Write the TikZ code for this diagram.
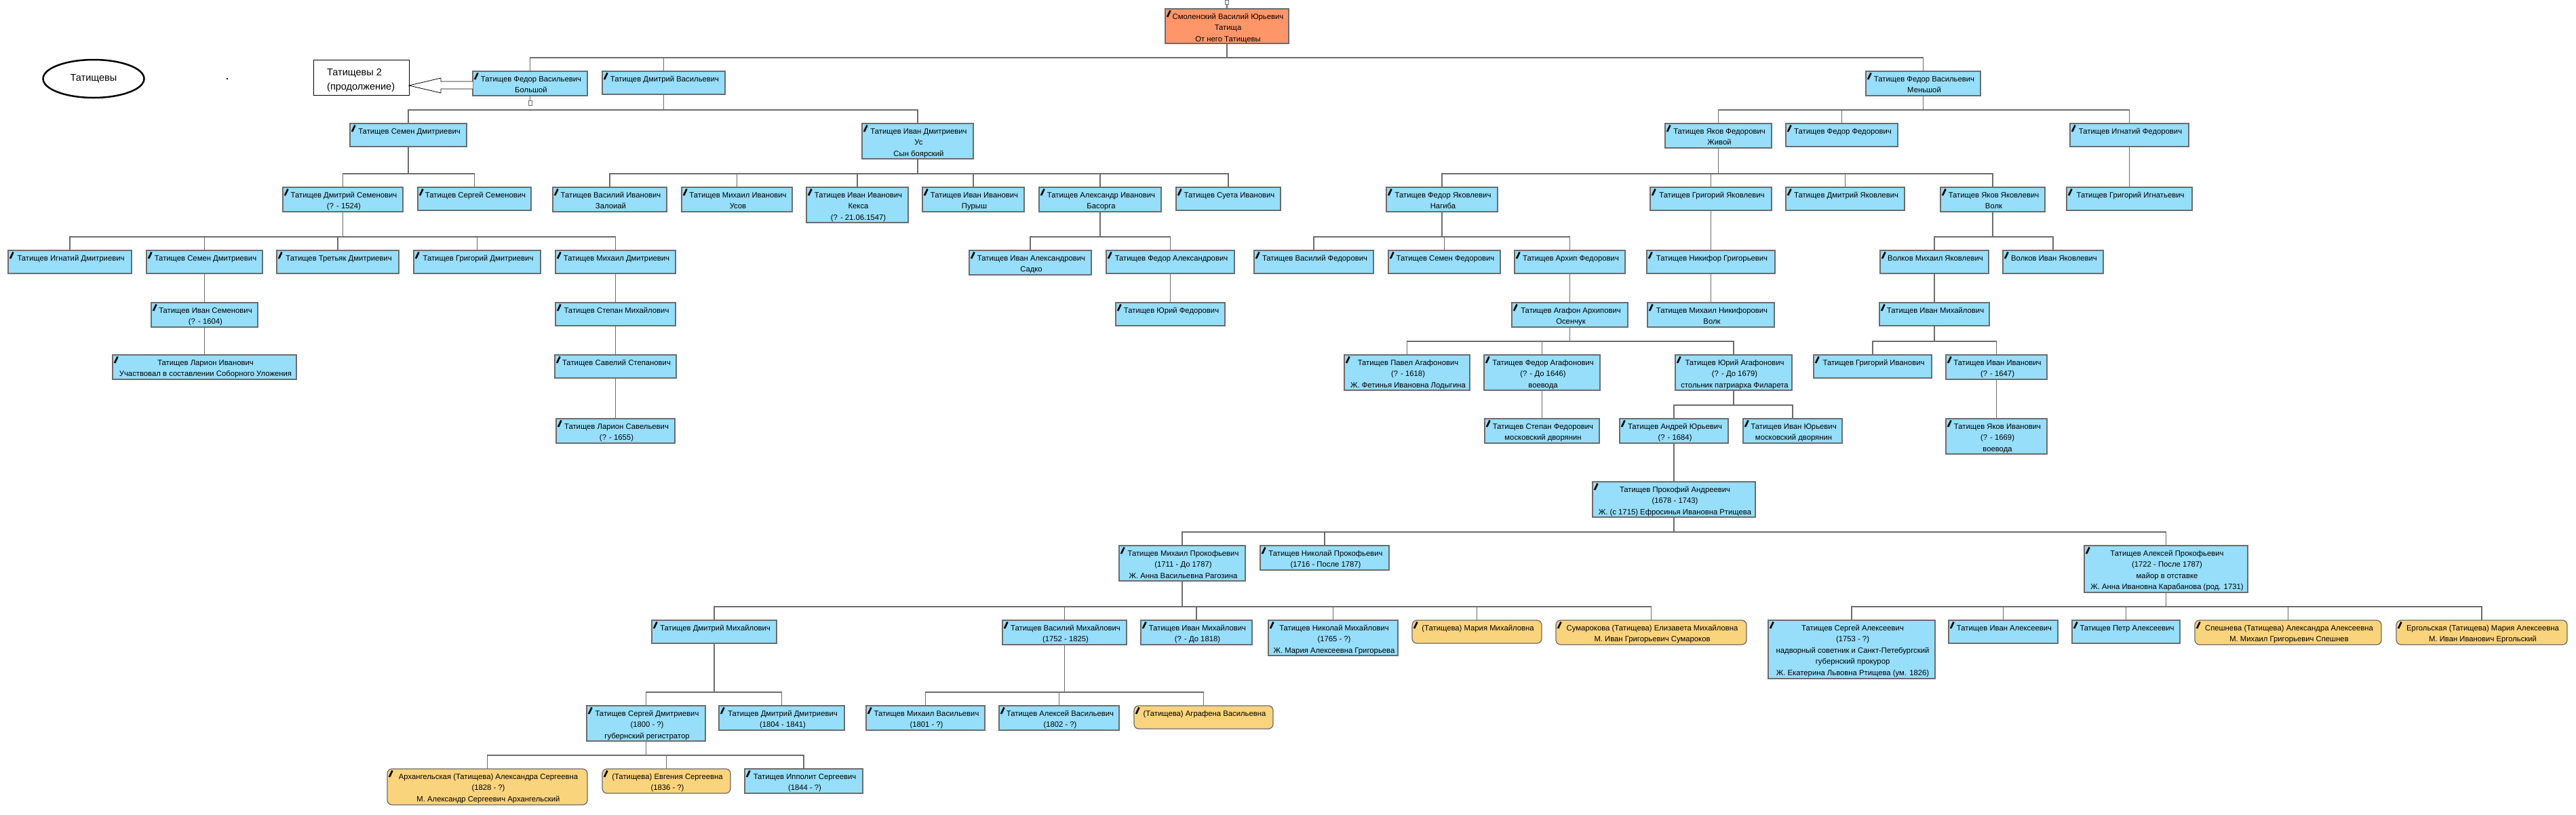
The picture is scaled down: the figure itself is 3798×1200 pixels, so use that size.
\documentclass[tikz,border=0pt]{standalone}
\usepackage{fontspec}
\setmainfont{Liberation Sans}
\usetikzlibrary{shapes.geometric,calc}
\definecolor{cBlue}{RGB}{150,222,250}
\definecolor{cOrange}{RGB}{255,150,105}
\definecolor{cFem}{RGB}{250,211,125}
\definecolor{cLine}{RGB}{108,108,108}
\tikzset{
  person/.style={rectangle, draw=cLine, line width=1.3pt, inner sep=0pt, outer sep=0pt},
  pblue/.style={person, fill=cBlue},
  porange/.style={person, fill=cOrange},
  pfem/.style={person, fill=cFem, rounded corners=7pt},
  ptext/.style={inner sep=0pt, outer sep=0pt, align=center, font=\fontsize{11.3}{16.5}\selectfont},
  conn/.style={draw=cLine, line width=1.8pt},
  cmark/.style={draw=black, line width=2.6pt},
}
\newcommand\mystrut{\vrule width 0pt height 11.3pt depth 0pt\relax}
\newcommand\pers[7][pblue]{%
  \node[#1, minimum width={#5-#3}, minimum height={#6-#4}, anchor=north west] (#2) at (#3,#4) {};
  \node[ptext, anchor=north] (#2t) at ([xshift=1.5pt,yshift=-3.7pt]#2.north) {\mystrut #7};
  \draw[cmark] ([shift={(3pt,-12pt)}]#2.north west) -- ([shift={(7.5pt,-2.5pt)}]#2.north west);
}
\newcommand\kid[2]{\draw[conn] (#1.south) |- ([yshift=20pt]#2.north) -- (#2.north);}
\begin{document}
\begin{tikzpicture}[x=1pt,y=-1pt]
\fill[white] (0,0) rectangle (3798,1200);
\useasboundingbox (0,0) rectangle (3798,1200);

% legend
\node[ellipse, draw=black, line width=2.5pt, minimum width=149pt, minimum height=56pt, inner sep=0pt,
  font=\fontsize{14.5}{18}\selectfont] (title) at (138,116) {Татищевы};
\node[circle, fill=black, inner sep=0pt, minimum size=2.6pt] (dot) at (335,116) {};
\node[draw=black, line width=1pt, fill=white, minimum width=141pt, minimum height=52pt, anchor=north west, inner sep=0pt] (t2) at (462,88) {};
\node[anchor=north west, align=left, inner sep=0pt, font=\fontsize{14.5}{21}\selectfont] (t2t) at ([shift={(20pt,-9pt)}]t2.north west) {\vrule width 0pt height 14pt depth 0pt Татищевы 2\\(продолжение)};

% generation 1
\pers[porange]{smol}{1718}{13}{1900}{64}{Смоленский Василий Юрьевич\\Татища\\От него Татищевы}
\pers{fb}{697}{105}{866}{141}{Татищев Федор Васильевич\\Большой}
\pers{dv}{888}{105}{1069}{139}{Татищев Дмитрий Васильевич}
\pers{fm}{2751}{105}{2920}{141}{Татищев Федор Васильевич\\Меньшой}

% generation 2
\pers{sd}{516}{182}{688}{216}{Татищев Семен Дмитриевич}
\pers{iu}{1271}{182}{1435}{234}{Татищев Иван Дмитриевич\\Ус\\Сын боярский}
\pers{yz}{2455}{182}{2612}{218}{Татищев Яков Федорович\\Живой}
\pers{ff}{2633}{182}{2798}{216}{Татищев Федор Федорович}
\pers{if}{3052}{182}{3227}{216}{Татищев Игнатий Федорович}

% generation 3
\pers{ds}{417}{276}{594}{312}{Татищев Дмитрий Семенович\\(? - 1524)}
\pers{ss}{616}{276}{783}{310}{Татищев Сергей Семенович}
\pers{vz}{815}{276}{983}{312}{Татищев Василий Иванович\\Залоиай}
\pers{mu}{1005}{276}{1168}{312}{Татищев Михаил Иванович\\Усов}
\pers{ik}{1189}{276}{1339}{328}{Татищев Иван Иванович\\Кекса\\(? - 21.06.1547)}
\pers{ip}{1360}{276}{1510}{312}{Татищев Иван Иванович\\Пурыш}
\pers{ab}{1532}{276}{1712}{312}{Татищев Александр Иванович\\Басорга}
\pers{su}{1734}{276}{1888}{310}{Татищев Суета Иванович}
\pers{fn}{2044}{276}{2208}{312}{Татищев Федор Яковлевич\\Нагиба}
\pers{gy}{2433}{276}{2612}{310}{Татищев Григорий Яковлевич}
\pers{dy}{2633}{276}{2808}{310}{Татищев Дмитрий Яковлевич}
\pers{yv}{2861}{276}{3015}{312}{Татищев Яков Яковлевич\\Волк}
\pers{gi}{3047}{276}{3232}{310}{Татищев Григорий Игнатьевич}

% generation 4
\pers{id}{12}{369}{194}{403}{Татищев Игнатий Дмитриевич}
\pers{sdm}{216}{369}{387}{403}{Татищев Семен Дмитриевич}
\pers{td}{408}{369}{588}{403}{Татищев Третьяк Дмитриевич}
\pers{gd}{610}{369}{797}{403}{Татищев Григорий Дмитриевич}
\pers{md}{819}{369}{996}{403}{Татищев Михаил Дмитриевич}
\pers{ias}{1429}{369}{1609}{405}{Татищев Иван Александрович\\Садко}
\pers{fa}{1631}{369}{1820}{403}{Татищев Федор Александрович}
\pers{vf}{1849}{369}{2025}{403}{Татищев Василий Федорович}
\pers{sf}{2047}{369}{2212}{403}{Татищев Семен Федорович}
\pers{af}{2233}{369}{2396}{403}{Татищев Архип Федорович}
\pers{ng}{2428}{369}{2617}{403}{Татищев Никифор Григорьевич}
\pers{vm}{2772}{369}{2932}{403}{Волков Михаил Яковлевич}
\pers{vi}{2953}{369}{3101}{403}{Волков Иван Яковлевич}

% generation 5
\pers{is}{223}{446}{380}{482}{Татищев Иван Семенович\\(? - 1604)}
\pers{sm}{819}{446}{996}{480}{Татищев Степан Михайлович}
\pers{yf}{1645}{446}{1806}{480}{Татищев Юрий Федорович}
\pers{aa}{2229}{446}{2400}{482}{Татищев Агафон Архипович\\Осенчук}
\pers{mn}{2429}{446}{2616}{482}{Татищев Михаил Никифорович\\Волк}
\pers{im}{2771}{446}{2933}{480}{Татищев Иван Михайлович}

% generation 6
\pers{li}{166}{523}{437}{559}{Татищев Ларион Иванович\\Участвовал в составлении Соборного Уложения}
\pers{sv}{818}{523}{997}{557}{Татищев Савелий Степанович}
\pers{pa}{1982}{523}{2167}{575}{Татищев Павел Агафонович\\(? - 1618)\\Ж. Фетинья Ивановна Лодыгина}
\pers{fag}{2188}{523}{2359}{575}{Татищев Федор Агафонович\\(? - До 1646)\\воевода}
\pers{ya}{2470}{523}{2642}{575}{Татищев Юрий Агафонович\\(? - До 1679)\\стольник патриарха Филарета}
\pers{gri}{2674}{523}{2848}{557}{Татищев Григорий Иванович}
\pers{ii}{2869}{523}{3018}{559}{Татищев Иван Иванович\\(? - 1647)}

% generation 7
\pers{ls}{820}{617}{995}{653}{Татищев Ларион Савельевич\\(? - 1655)}
\pers{sfe}{2189}{617}{2358}{653}{Татищев Степан Федорович\\московский дворянин}
\pers{ay}{2388}{617}{2548}{653}{Татищев Андрей Юрьевич\\(? - 1684)}
\pers{iy}{2570}{617}{2716}{653}{Татищев Иван Юрьевич\\московский дворянин}
\pers{yi}{2869}{617}{3018}{669}{Татищев Яков Иванович\\(? - 1669)\\воевода}

% generation 8
\pers{pr}{2348}{710}{2588}{762}{Татищев Прокофий Андреевич\\(1678 - 1743)\\Ж. (с 1715) Ефросинья Ивановна Ртищева}

% generation 9
\pers{mp}{1650}{804}{1836}{856}{Татищев Михаил Прокофьевич\\(1711 - До 1787)\\Ж. Анна Васильевна Рагозина}
\pers{np}{1858}{804}{2048}{840}{Татищев Николай Прокофьевич\\(1716 - После 1787)}
\pers{ap}{3073}{804}{3314}{873}{Татищев Алексей Прокофьевич\\(1722 - После 1787)\\майор в отставке\\Ж. Анна Ивановна Карабанова (род. 1731)}

% generation 10
\pers{dm}{961}{914}{1145}{948}{Татищев Дмитрий Михайлович}
\pers{vmi}{1478}{914}{1661}{950}{Татищев Василий Михайлович\\(1752 - 1825)}
\pers{imi}{1682}{914}{1846}{950}{Татищев Иван Михайлович\\(? - До 1818)}
\pers{nm}{1870}{914}{2061}{966}{Татищев Николай Михайлович\\(1765 - ?)\\Ж. Мария Алексеевна Григорьева}
\pers[pfem]{mm}{2082}{914}{2273}{948}{(Татищева) Мария Михайловна}
\pers[pfem]{em}{2294}{914}{2575}{950}{Сумарокова (Татищева) Елизавета Михайловна\\М. Иван Григорьевич Сумароков}
\pers{sa}{2607}{914}{2853}{1000}{Татищев Сергей Алексеевич\\(1753 - ?)\\надворный советник и Санкт-Петебургский\\губернский прокурор\\Ж. Екатерина Львовна Ртищева (ум. 1826)}
\pers{ia}{2873}{914}{3034}{948}{Татищев Иван Алексеевич}
\pers{pe}{3055}{914}{3214}{948}{Татищев Петр Алексеевич}
\pers[pfem]{sp}{3236}{914}{3511}{950}{Спешнева (Татищева) Александра Алексеевна\\М. Михаил Григорьевич Спешнев}
\pers[pfem]{eg}{3533}{914}{3785}{950}{Ергольская (Татищева) Мария Алексеевна\\М. Иван Иванович Ергольский}

% generation 11
\pers{sdi}{865}{1040}{1040}{1092}{Татищев Сергей Дмитриевич\\(1800 - ?)\\губернский регистратор}
\pers{ddi}{1060}{1040}{1245}{1076}{Татищев Дмитрий Дмитриевич\\(1804 - 1841)}
\pers{mv}{1277}{1040}{1452}{1076}{Татищев Михаил Васильевич\\(1801 - ?)}
\pers{av}{1473}{1040}{1650}{1076}{Татищев Алексей Васильевич\\(1802 - ?)}
\pers[pfem]{agv}{1672}{1040}{1877}{1074}{(Татищева) Аграфена Васильевна}

% generation 12
\pers[pfem]{as}{571}{1133}{866}{1186}{Архангельская (Татищева) Александра Сергеевна\\(1828 - ?)\\М. Александр Сергеевич Архангельский}
\pers[pfem]{es}{888}{1133}{1077}{1169}{(Татищева) Евгения Сергеевна\\(1836 - ?)}
\pers{ips}{1098}{1133}{1272}{1169}{Татищев Ипполит Сергеевич\\(1844 - ?)}

% collapse markers
\node[draw=cLine, line width=1pt, fill=white, minimum width=5pt, minimum height=6pt, inner sep=0pt] (sq1) at (1809,3.5) {};
\draw[draw=cLine, line width=1.4pt] (sq1.south) -- (smol.north);
\node[draw=cLine, line width=1pt, fill=white, minimum width=5pt, minimum height=7pt, inner sep=0pt] (sq2) at (781.5,151.5) {};
\draw[draw=cLine, line width=1.4pt] (fb.south) -- (sq2.north);

% block arrow to continuation
\draw[black, line width=0.8pt, fill=white]
  ($(fb.west)+(0,-3)$) -- ($(fb.west)+(-47,-3)$) -- ($(fb.west)+(-47,-8)$) -- ($(fb.west)+(-94,3)$)
  -- ($(fb.west)+(-47,14)$) -- ($(fb.west)+(-47,8)$) -- ($(fb.west)+(0,8)$);

% connectors
\kid{smol}{fb}\kid{smol}{dv}\kid{smol}{fm}
\kid{dv}{sd}\kid{dv}{iu}
\kid{sd}{ds}\kid{sd}{ss}
\kid{iu}{vz}\kid{iu}{mu}\kid{iu}{ik}\kid{iu}{ip}\kid{iu}{ab}\kid{iu}{su}
\kid{ds}{id}\kid{ds}{sdm}\kid{ds}{td}\kid{ds}{gd}\kid{ds}{md}
\kid{sdm}{is}\kid{is}{li}
\kid{md}{sm}\kid{sm}{sv}\kid{sv}{ls}
\kid{ab}{ias}\kid{ab}{fa}\kid{fa}{yf}
\kid{fm}{yz}\kid{fm}{ff}\kid{fm}{if}
\kid{yz}{fn}\kid{yz}{gy}\kid{yz}{dy}\kid{yz}{yv}
\kid{if}{gi}
\kid{fn}{vf}\kid{fn}{sf}\kid{fn}{af}
\kid{gy}{ng}\kid{ng}{mn}
\kid{af}{aa}
\kid{aa}{pa}\kid{aa}{fag}\kid{aa}{ya}
\kid{fag}{sfe}
\kid{ya}{ay}\kid{ya}{iy}
\kid{ay}{pr}
\kid{pr}{mp}\kid{pr}{np}\kid{pr}{ap}
\kid{yv}{vm}\kid{yv}{vi}
\kid{vm}{im}
\kid{im}{gri}\kid{im}{ii}
\kid{ii}{yi}
\kid{mp}{dm}\kid{mp}{vmi}\kid{mp}{imi}\kid{mp}{nm}\kid{mp}{mm}\kid{mp}{em}
\kid{ap}{sa}\kid{ap}{ia}\kid{ap}{pe}\kid{ap}{sp}\kid{ap}{eg}
\kid{dm}{sdi}\kid{dm}{ddi}
\kid{vmi}{mv}\kid{vmi}{av}\kid{vmi}{agv}
\kid{sdi}{as}\kid{sdi}{es}\kid{sdi}{ips}
\end{tikzpicture}
\end{document}
